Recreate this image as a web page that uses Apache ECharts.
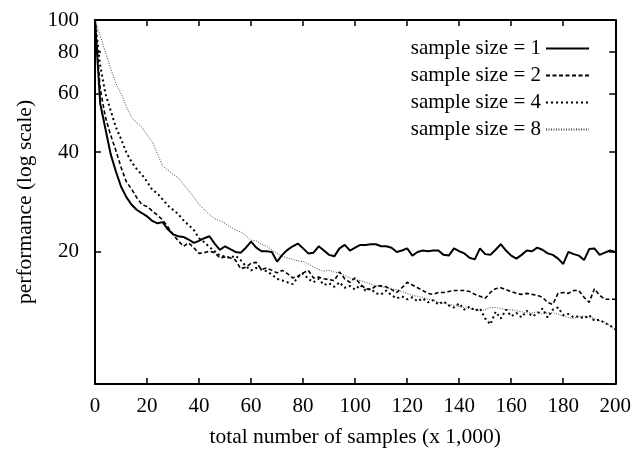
<!DOCTYPE html>
<html>
<head>
<meta charset="utf-8">
<script src="https://cdn.jsdelivr.net/npm/echarts@6/dist/echarts.min.js"></script>
<style>html,body{margin:0;padding:0;background:#fff;}#c{width:634px;height:457px;}</style>
</head>
<body>
<div id="c"></div>
<script>
// x positions: total number of samples (x 1,000), every 2
const samples = Array.from({length: 101}, (_, i) => i * 2);
const yTicks = [20, 40, 60, 80, 100];
const seriesNames = ['sample size = 1', 'sample size = 2', 'sample size = 4', 'sample size = 8'];

const size1 = [100,56,47,39.5,35,31.5,29.3,27.8,26.8,26.2,
  25.6,24.8,24.4,24.6,23.4,22.6,22.3,22.2,21.8,21.3,
  21.6,22.0,22.3,21.2,20.3,20.8,20.4,20.0,19.9,20.6,
  21.5,20.6,20.1,20.1,20.0,18.7,19.6,20.3,20.8,21.2,
  20.5,19.8,19.9,20.8,20.2,19.6,19.4,20.5,21.0,20.2,
  20.6,21.0,21.0,21.1,21.1,20.8,20.8,20.6,20.0,20.2,
  20.5,19.5,20.0,20.2,20.1,20.2,20.2,19.6,19.5,20.5,
  20.1,19.8,19.2,19.0,20.5,19.7,19.6,20.3,21.1,20.2,
  19.5,19.1,19.6,20.2,20.1,20.6,20.3,19.8,19.6,19.1,
  18.4,20.0,19.7,19.5,18.9,20.4,20.5,19.6,19.9,20.2,
  20.0];
const size2 = [100,62,51,45,40.5,36,32.6,31,29.2,27.8,
  27.4,26.6,25.8,25.0,23.8,22.6,21.6,20.8,21.3,20.6,
  19.8,19.9,20.1,19.9,19.2,19.3,19.2,18.9,17.8,18.0,
  18.5,18.6,17.7,17.9,17.6,17.3,17.6,17.2,16.7,16.9,
  17.3,17.6,16.7,16.8,16.6,16.5,16.4,17.4,16.6,16.2,
  16.7,16.0,15.5,15.4,15.8,15.8,15.7,15.4,15.1,15.6,
  16.2,15.9,15.6,15.3,15.0,14.9,15.1,15.1,15.2,15.3,
  15.3,15.3,15.2,14.9,14.7,14.5,15.1,15.5,15.6,15.4,
  15.2,15.0,14.9,15.0,14.9,14.8,14.6,14.1,13.9,15.0,
  15.1,15.0,15.3,15.3,14.6,14.1,15.5,14.8,14.4,14.4,
  14.4];
const size4 = [100,73,60,53.4,47.6,43.8,40.0,37.4,35.6,34.2,
  32.6,30.8,30.0,28.8,27.6,26.8,26.0,24.9,24.1,23.3,
  22.0,21.4,20.7,20.1,19.5,19.4,19.2,19.5,18.9,18.1,
  17.6,17.9,17.7,17.5,17.1,16.6,16.4,16.2,16.0,16.8,
  17.2,16.6,16.2,16.6,15.9,16.1,15.7,16.2,15.6,15.8,
  15.4,15.9,15.3,15.5,15.0,14.9,15.3,14.8,14.5,14.7,
  14.4,14.6,14.2,14.5,14.1,14.3,13.9,14.2,13.8,13.6,
  14.0,13.4,13.7,13.3,13.5,12.6,12.1,13.2,12.6,13.4,
  12.8,13.1,12.7,13.3,12.8,13.0,13.5,12.7,13.4,13.6,
  12.9,13.0,12.7,12.8,12.6,12.9,12.4,12.5,12.2,12.0,
  11.7];
const size8 = [100,90,80,71.5,64.5,60,55,51,49,47.6,
  45,43,39.5,36.3,35.3,34.3,33.5,32,30.6,29.2,
  27.8,26.8,25.9,25.2,24.8,24.4,23.8,23.3,23.0,22.4,
  21.7,21.6,21.1,20.8,20.3,19.8,19.4,19.2,19.0,18.8,
  18.7,18.4,18.0,17.7,17.5,17.6,17.4,17.3,17.0,16.7,
  16.5,16.4,16.2,16.0,15.8,15.7,15.6,15.5,15.4,15.2,
  15.0,14.8,14.7,14.6,14.4,14.3,14.1,14.0,13.9,13.8,
  13.7,13.6,13.5,13.4,13.3,13.4,13.6,13.6,13.5,13.4,
  13.4,13.3,13.2,13.1,13.1,13.2,13.0,13.1,13.1,13.0,
  12.8,12.7,12.6,12.8,12.8,12.7,12.6,12.4,12.3,12.0,
  11.6];

const seriesValues = [size1, size2, size4, size8];
const FONT = 'Liberation Serif';
const lineStyles = [
  {color: '#000', width: 2, type: 'solid'},
  {color: '#000', width: 1.6, type: [4, 2.5]},
  {color: '#000', width: 2, type: [2, 3]},
  {color: '#444', width: 1, type: [1, 1.5]}
];

const chart = echarts.init(document.getElementById('c'), null, {renderer: 'canvas'});
const baseX = {
  type: 'value', min: 0, max: 200, interval: 20,
  axisLine: {show: true, onZero: false, lineStyle: {color: '#000', width: 2}},
  axisTick: {show: true, inside: true, length: 6, lineStyle: {color: '#000', width: 1.5}},
  splitLine: {show: false}
};
const baseY = {
  type: 'log', logBase: 10, min: 8, max: 100,
  axisLine: {show: true, onZero: false, lineStyle: {color: '#000', width: 2}},
  axisTick: {show: true, inside: true, length: 6, customValues: yTicks, lineStyle: {color: '#000', width: 1.5}},
  splitLine: {show: false}
};
chart.setOption({
  animation: false,
  backgroundColor: '#fff',
  grid: {left: 95, right: 18, top: 20, bottom: 73, show: false},
  legend: {
    data: seriesNames,
    orient: 'vertical', align: 'right',
    right: 39, top: 33,
    itemWidth: 43, itemHeight: 14, itemGap: 6,
    itemStyle: {opacity: 0},
    textStyle: {fontFamily: FONT, fontSize: 21, color: '#000'}
  },
  xAxis: [
    Object.assign({}, baseX, {
      position: 'bottom',
      axisLabel: {show: true, fontFamily: FONT, fontSize: 21, color: '#000', margin: 12},
      name: 'total number of samples (x 1,000)', nameLocation: 'middle', nameGap: 42,
      nameTextStyle: {fontFamily: FONT, fontSize: 21.5, color: '#000'}
    }),
    Object.assign({}, baseX, {position: 'top', axisLabel: {show: false}})
  ],
  yAxis: [
    Object.assign({}, baseY, {
      position: 'left',
      axisLabel: {show: true, customValues: yTicks, fontFamily: FONT, fontSize: 21, color: '#000', margin: 16},
      name: 'performance (log scale)', nameLocation: 'middle', nameGap: 50, nameRotate: 90,
      nameTextStyle: {fontFamily: FONT, fontSize: 21.5, color: '#000'}
    }),
    Object.assign({}, baseY, {position: 'right', axisLabel: {show: false}})
  ],
  series: seriesNames.map((name, k) => ({
    name: name, type: 'line', xAxisIndex: 0, yAxisIndex: 0,
    data: samples.map((x, i) => [x, seriesValues[k][i]]),
    symbol: 'none', showSymbol: false, smooth: false,
    lineStyle: lineStyles[k], itemStyle: {color: lineStyles[k].color},
    z: 4 - k
  }))
});
</script>
</body>
</html>
